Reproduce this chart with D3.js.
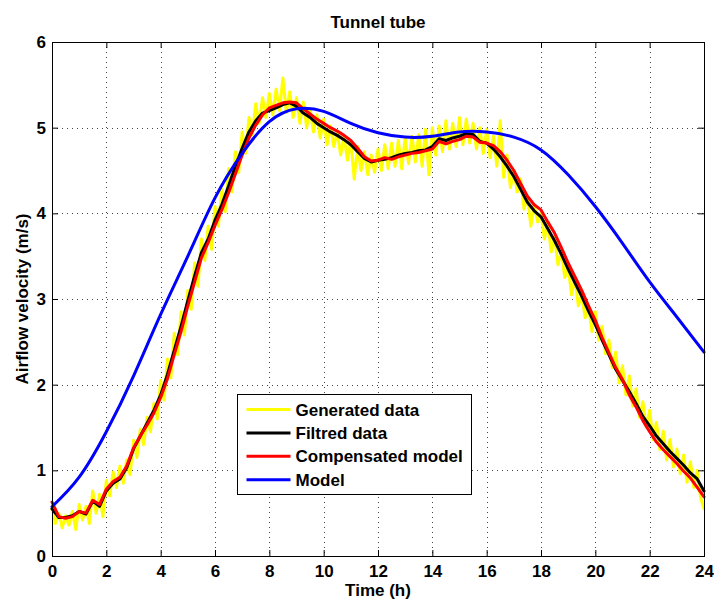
<!DOCTYPE html>
<html>
<head>
<meta charset="utf-8">
<script src="https://cdn.jsdelivr.net/npm/d3@7"></script>
<style>
	body { margin: 0; background: #fff; }
	text { font-family: 'Liberation Sans', Arial, sans-serif; font-weight: bold; }
</style>
</head>
<body>
<div id="chart"></div>
<script>
const xTicks = [0, 2, 4, 6, 8, 10, 12, 14, 16, 18, 20, 22, 24];
const yTicks = [0, 1, 2, 3, 4, 5, 6];

// Model (blue), hourly
const modelValues = [0.575, 0.92, 1.45, 2.1, 2.82, 3.50, 4.18, 4.70, 5.07, 5.22, 5.19, 5.05, 4.94,
	4.89, 4.90, 4.95, 4.95, 4.89, 4.74, 4.45, 4.08, 3.65, 3.20, 2.79, 2.38];

// Compensated model (red), every 0.25 h
const compensatedValues = [
	0.63, 0.46, 0.44, 0.46, 0.52, 0.50, 0.65, 0.60,
	0.78, 0.87, 0.92, 1.05, 1.26, 1.40, 1.53, 1.67,
	1.85, 2.07, 2.35, 2.62, 2.92, 3.20, 3.48, 3.66,
	3.86, 4.04, 4.24, 4.46, 4.68, 4.88, 5.03, 5.15,
	5.23, 5.26, 5.29, 5.30, 5.29, 5.22, 5.16, 5.10,
	5.05, 5.00, 4.96, 4.91, 4.85, 4.76, 4.66, 4.61,
	4.62, 4.65, 4.63, 4.66, 4.68, 4.70, 4.71, 4.73,
	4.75, 4.84, 4.81, 4.84, 4.86, 4.90, 4.89, 4.83,
	4.82, 4.79, 4.72, 4.62, 4.50, 4.35, 4.20, 4.10,
	4.04, 3.90, 3.77, 3.60, 3.42, 3.26, 3.10, 2.92,
	2.75, 2.55, 2.37, 2.20, 2.06, 1.88, 1.74, 1.58,
	1.45, 1.33, 1.24, 1.16, 1.08, 0.99, 0.91, 0.80,
	0.69];

// Filtred data (black), every 0.25 h
const filteredValues = [
	0.55, 0.45, 0.45, 0.47, 0.52, 0.49, 0.64, 0.58,
	0.76, 0.85, 0.90, 1.03, 1.25, 1.40, 1.55, 1.70,
	1.88, 2.12, 2.40, 2.68, 2.98, 3.27, 3.54, 3.70,
	3.92, 4.10, 4.32, 4.55, 4.76, 4.95, 5.08, 5.17,
	5.20, 5.23, 5.27, 5.29, 5.25, 5.17, 5.12, 5.05,
	5.00, 4.95, 4.91, 4.86, 4.80, 4.72, 4.64, 4.60,
	4.62, 4.63, 4.65, 4.68, 4.70, 4.71, 4.73, 4.74,
	4.78, 4.87, 4.85, 4.88, 4.90, 4.93, 4.92, 4.84,
	4.82, 4.75, 4.66, 4.55, 4.43, 4.28, 4.13, 4.03,
	3.96, 3.82, 3.68, 3.52, 3.35, 3.19, 3.03, 2.86,
	2.70, 2.52, 2.35, 2.18, 2.05, 1.92, 1.78, 1.63,
	1.52, 1.40, 1.31, 1.22, 1.14, 1.06, 0.97, 0.90,
	0.76];

// Generated data (yellow), every 0.125 h
const generatedValues = [
	0.55, 0.38, 0.50, 0.33, 0.47, 0.36, 0.52, 0.31,
	0.60, 0.42, 0.58, 0.38, 0.76, 0.50, 0.72, 0.46,
	0.88, 0.70, 0.98, 0.80, 1.05, 0.85, 1.12, 0.95,
	1.35, 1.15, 1.48, 1.30, 1.62, 1.45, 1.78, 1.60,
	2.05, 1.82, 2.30, 2.08, 2.60, 2.35, 2.85, 2.58,
	3.10, 2.88, 3.42, 3.15, 3.70, 3.45, 3.85, 3.58,
	4.08, 3.85, 4.28, 4.02, 4.52, 4.25, 4.72, 4.48,
	4.95, 4.70, 5.12, 4.92, 5.28, 5.05, 5.35, 5.12,
	5.40, 5.15, 5.45, 5.20, 5.58, 5.18, 5.42, 5.12,
	5.35, 5.05, 5.30, 5.00, 5.22, 4.95, 5.15, 4.88,
	5.10, 4.80, 5.02, 4.78, 4.95, 4.68, 4.90, 4.62,
	4.85, 4.40, 4.78, 4.50, 4.72, 4.45, 4.68, 4.48,
	4.75, 4.50, 4.80, 4.52, 4.82, 4.55, 4.85, 4.52,
	4.88, 4.58, 4.90, 4.60, 4.92, 4.55, 4.98, 4.45,
	5.00, 4.68, 5.02, 4.72, 5.08, 4.75, 5.05, 4.78,
	5.12, 4.80, 5.10, 4.82, 5.05, 4.75, 5.00, 4.70,
	4.98, 4.65, 4.90, 4.55, 5.08, 4.42, 4.68, 4.30,
	4.50, 4.25, 4.40, 4.05, 4.20, 3.85, 4.10, 3.90,
	4.00, 3.70, 3.90, 3.55, 3.72, 3.40, 3.55, 3.25,
	3.38, 3.05, 3.25, 2.92, 3.05, 2.78, 2.92, 2.62,
	2.85, 2.52, 2.68, 2.36, 2.52, 2.20, 2.38, 2.02,
	2.22, 1.88, 2.10, 1.75, 1.95, 1.62, 1.80, 1.50,
	1.70, 1.36, 1.56, 1.24, 1.46, 1.12, 1.36, 1.04,
	1.25, 0.96, 1.18, 0.86, 1.10, 0.80, 1.00, 0.68,
	0.55];

const legendLabels = ['Generated data', 'Filtred data', 'Compensated model', 'Model'];
const legendColors = ['#ffff00', '#000000', '#ff0000', '#0000ff'];

const width = 714;
const height = 600;
const plotLeft = 52;
const plotRight = 704;
const plotTop = 42;
const plotBottom = 556;
const fontSize = 17;

const svg = d3.select('#chart')
	.append('svg')
	.attr('width', width)
	.attr('height', height);

const xScale = d3.scaleLinear().domain([0, 24]).range([plotLeft, plotRight]);
const yScale = d3.scaleLinear().domain([0, 6]).range([plotBottom, plotTop]);

// dotted grid
const grid = svg.append('g').attr('stroke', '#444').attr('stroke-width', 1).attr('stroke-dasharray', '1,4');
grid.selectAll('line.gx')
	.data(xTicks.slice(1, -1))
	.enter()
	.append('line')
	.attr('x1', (d) => Math.round(xScale(d)) + 0.5)
	.attr('x2', (d) => Math.round(xScale(d)) + 0.5)
	.attr('y1', plotTop)
	.attr('y2', plotBottom);
grid.selectAll('line.gy')
	.data(yTicks.slice(1, -1))
	.enter()
	.append('line')
	.attr('x1', plotLeft)
	.attr('x2', plotRight)
	.attr('y1', (d) => Math.round(yScale(d)) + 0.5)
	.attr('y2', (d) => Math.round(yScale(d)) + 0.5);

// series
function seriesPoints(values, step) {
	return values.map((v, i) => [i * step, v]);
}

const line = d3.line()
	.x((d) => xScale(d[0]))
	.y((d) => yScale(d[1]));

const plot = svg.append('g').attr('fill', 'none').attr('stroke-linejoin', 'round').attr('stroke-linecap', 'round');

plot.append('path')
	.datum(seriesPoints(generatedValues, 0.125))
	.attr('d', line)
	.attr('stroke', legendColors[0])
	.attr('stroke-width', 3);

plot.append('path')
	.datum(seriesPoints(filteredValues, 0.25))
	.attr('d', line)
	.attr('stroke', legendColors[1])
	.attr('stroke-width', 3);

plot.append('path')
	.datum(seriesPoints(compensatedValues, 0.25))
	.attr('d', line)
	.attr('stroke', legendColors[2])
	.attr('stroke-width', 3);

plot.append('path')
	.datum(seriesPoints(modelValues, 1))
	.attr('d', line.curve(d3.curveNatural))
	.attr('stroke', legendColors[3])
	.attr('stroke-width', 3);

// axes (ticks inside like MATLAB)
const xAxis = d3.axisBottom(xScale).tickValues(xTicks).tickSize(-6).tickPadding(9).tickFormat(d3.format('d'));
const yAxis = d3.axisLeft(yScale).tickValues(yTicks).tickSize(-6).tickPadding(6).tickFormat(d3.format('d'));

const xAxisSel = svg.append('g').attr('transform', 'translate(0,' + plotBottom + ')').call(xAxis);
const yAxisSel = svg.append('g').attr('transform', 'translate(' + plotLeft + ',0)').call(yAxis);
svg.append('g').attr('transform', 'translate(0,' + plotTop + ')')
	.call(d3.axisTop(xScale).tickValues(xTicks).tickSize(-6).tickFormat(() => ''));
svg.append('g').attr('transform', 'translate(' + plotRight + ',0)')
	.call(d3.axisRight(yScale).tickValues(yTicks).tickSize(-6).tickFormat(() => ''));

svg.selectAll('.domain').remove();
svg.selectAll('.tick line').attr('stroke', '#000');
xAxisSel.selectAll('.tick text').style('font-size', fontSize + 'px').attr('fill', '#000');
yAxisSel.selectAll('.tick text').style('font-size', fontSize + 'px').attr('fill', '#000');

svg.append('rect')
	.attr('x', plotLeft + 0.5)
	.attr('y', plotTop + 0.5)
	.attr('width', plotRight - plotLeft)
	.attr('height', plotBottom - plotTop)
	.attr('fill', 'none')
	.attr('stroke', '#000')
	.attr('stroke-width', 1);

// title and labels
svg.append('text')
	.attr('x', (plotLeft + plotRight) / 2)
	.attr('y', 28)
	.attr('text-anchor', 'middle')
	.style('font-size', fontSize + 'px')
	.text('Tunnel tube');

svg.append('text')
	.attr('x', (plotLeft + plotRight) / 2)
	.attr('y', 596)
	.attr('text-anchor', 'middle')
	.style('font-size', fontSize + 'px')
	.text('Time (h)');

svg.append('text')
	.attr('transform', 'translate(28,' + (plotTop + plotBottom) / 2 + ') rotate(-90)')
	.attr('text-anchor', 'middle')
	.style('font-size', fontSize + 'px')
	.text('Airflow velocity (m/s)');

// legend
const legend = svg.append('g').attr('transform', 'translate(237.5,394.5)');
legend.append('rect')
	.attr('width', 234)
	.attr('height', 100)
	.attr('fill', '#fff')
	.attr('stroke', '#000')
	.attr('stroke-width', 1);

const legendRows = legend.selectAll('g.row')
	.data(legendLabels)
	.enter()
	.append('g')
	.attr('transform', (d, i) => 'translate(0,' + (15 + i * 23.4) + ')');
legendRows.append('line')
	.attr('x1', 9)
	.attr('x2', 53)
	.attr('stroke', (d, i) => legendColors[i])
	.attr('stroke-width', 3);
legendRows.append('text')
	.attr('x', 58)
	.attr('dy', '0.36em')
	.style('font-size', fontSize + 'px')
	.text((d) => d);
</script>
</body>
</html>
